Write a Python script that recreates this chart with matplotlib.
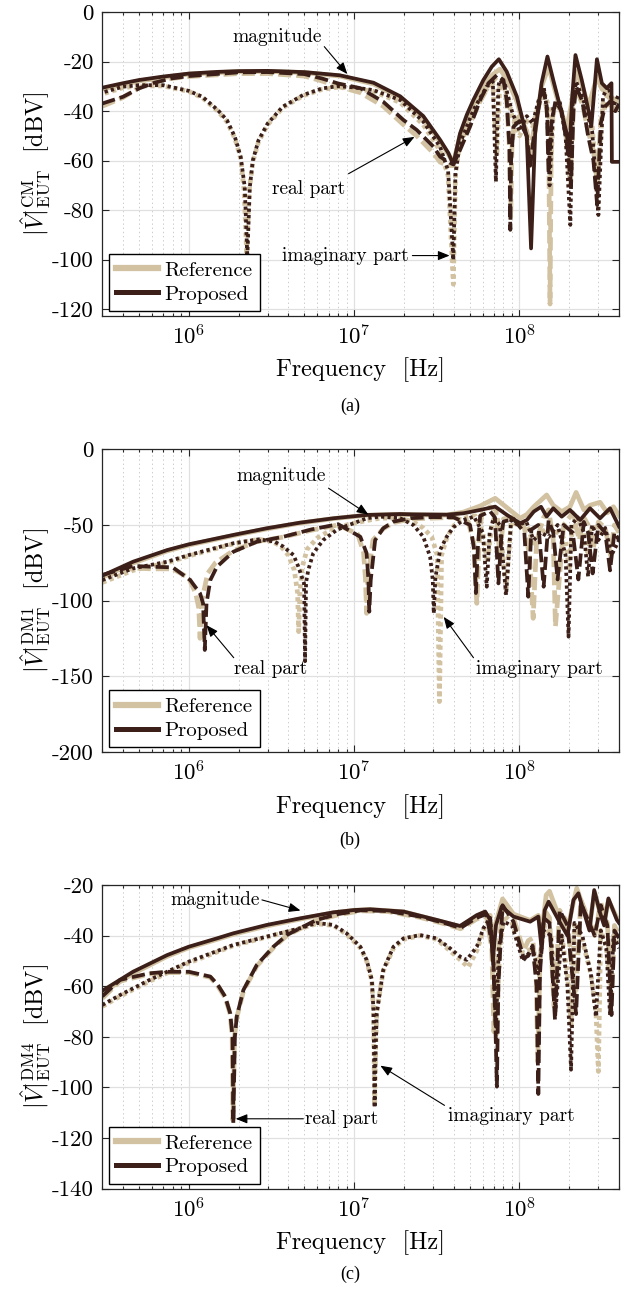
import matplotlib.pyplot as plt
from matplotlib.lines import Line2D

# ---- panel (a): CM voltage, (frequency [Hz], level [dBV]) pairs ----
a_mag_ref = [(3e5, -31.0), (5e5, -27.8), (1e6, -25.0), (2e6, -24.0), (3e6, -23.9), (5e6, -24.4), (8.2e6, -25.8),
             (1.31e7, -29.0), (1.9e7, -34.6), (2.62e7, -42.8), (3.31e7, -52.3), (3.72e7, -57.5), (3.98e7, -61.0),
             (4.37e7, -50.0), (4.8e7, -43.0), (5.26e7, -37.5), (6.05e7, -30.0), (6.8e7, -25.5), (7.6e7, -23.0),
             (8.4e7, -27.0), (9.64e7, -36.0), (1.107e8, -50.0), (1.16e8, -62.0), (1.244e8, -48.0), (1.36e8, -30.0),
             (1.5e8, -22.0), (1.6e8, -29.0), (1.76e8, -39.0), (1.93e8, -47.0), (2.05e8, -38.0), (2.2e8, -24.0),
             (2.38e8, -29.0), (2.61e8, -38.0), (2.75e8, -33.0), (2.95e8, -26.0), (3.15e8, -31.0), (3.4e8, -33.0),
             (3.7e8, -35.0), (4e8, -36.0)]
a_mag_pro = [(3e5, -30.5), (4e5, -28.7), (5e5, -27.4), (7e5, -26.0), (1e6, -24.8), (1.5e6, -24.1), (2e6, -23.8),
             (3e6, -23.7), (5e6, -24.2), (8.2e6, -25.5), (1.31e7, -28.5), (1.9e7, -34.0), (2.62e7, -42.0),
             (3.31e7, -51.6), (3.72e7, -57.0), (3.98e7, -61.5), (4.37e7, -49.0), (4.8e7, -41.5), (5.26e7, -35.5),
             (6.05e7, -27.4), (6.8e7, -22.0), (7.5e7, -19.0), (8.37e7, -24.0), (9.64e7, -34.1), (1.107e8, -50.3),
             (1.175e8, -95.5), (1.244e8, -48.9), (1.36e8, -28.7), (1.476e8, -17.9), (1.6e8, -27.4), (1.76e8, -38.2),
             (1.93e8, -49.0), (2.0e8, -58.0), (2.08e8, -35.0), (2.18e8, -17.3), (2.38e8, -27.4), (2.61e8, -39.6),
             (2.72e8, -46.0), (2.94e8, -19.0), (3.15e8, -28.7), (3.37e8, -30.7), (3.6e8, -28.7), (3.62e8, -60.5),
             (4e8, -60.5)]
a_re_ref = [(3e5, -38.0), (4e5, -34.5), (5e5, -30.5), (6.2e5, -28.0), (7.8e5, -26.8), (1e6, -26.0), (2e6, -24.8),
            (3e6, -24.8), (5e6, -25.8), (6.4e6, -27.8), (8e6, -30.0), (1.09e7, -32.5), (1.5e7, -38.0), (1.99e7, -45.5),
            (2.39e7, -50.0), (3.02e7, -57.0), (3.31e7, -60.6), (3.7e7, -62.0), (3.98e7, -62.0), (4.37e7, -53.0),
            (5.02e7, -45.0), (5.78e7, -36.0), (6.49e7, -30.0), (7.3e7, -26.0), (8.0e7, -28.0), (8.37e7, -36.0),
            (8.7e7, -55.0), (8.85e7, -83.0), (9.0e7, -55.0), (9.3e7, -44.0), (1.0e8, -42.0), (1.107e8, -48.0),
            (1.16e8, -56.0), (1.25e8, -44.0), (1.33e8, -35.0), (1.42e8, -34.0), (1.5e8, -45.0), (1.53e8, -118.0),
            (1.56e8, -45.0), (1.65e8, -37.0), (1.8e8, -40.0), (1.95e8, -52.0), (2.05e8, -62.0), (2.12e8, -38.0),
            (2.2e8, -31.0), (2.4e8, -37.0), (2.6e8, -48.0), (2.8e8, -56.0), (2.95e8, -68.0), (3.1e8, -44.0),
            (3.3e8, -38.0), (3.55e8, -37.0), (3.8e8, -40.0), (4e8, -38.0)]
a_re_pro = [(3e5, -36.9), (4e5, -34.2), (5e5, -30.8), (6.2e5, -28.5), (7.8e5, -26.8), (1e6, -25.8), (2e6, -24.3),
            (3e6, -24.2), (5e6, -25.0), (6.4e6, -26.8), (8e6, -28.8), (1.09e7, -30.7), (1.5e7, -36.2), (1.99e7, -43.6),
            (2.39e7, -47.6), (3.02e7, -54.4), (3.31e7, -58.4), (3.7e7, -60.5), (3.98e7, -61.5), (4.37e7, -55.7),
            (5.02e7, -46.3), (5.78e7, -35.5), (6.49e7, -28.7), (7.3e7, -25.4), (8.0e7, -27.4), (8.37e7, -35.5),
            (8.7e7, -55.0), (8.8e7, -88.0), (8.9e7, -60.0), (9.2e7, -46.3), (1.0e8, -44.0), (1.107e8, -50.0),
            (1.16e8, -62.0), (1.25e8, -45.0), (1.33e8, -36.0), (1.4e8, -32.0), (1.46e8, -38.0), (1.5e8, -65.0),
            (1.56e8, -45.0), (1.65e8, -36.0), (1.8e8, -40.0), (1.95e8, -55.0), (2.05e8, -70.0), (2.12e8, -40.0),
            (2.2e8, -30.0), (2.4e8, -36.0), (2.6e8, -50.0), (2.8e8, -60.0), (2.95e8, -78.0), (3.1e8, -45.0),
            (3.3e8, -38.0), (3.55e8, -36.0), (3.8e8, -40.0), (4e8, -37.0)]
a_im_ref = [(3.1e5, -32.8), (4e5, -30.5), (5e5, -29.8), (7e5, -29.8), (1e6, -32.0), (1.21e6, -34.6), (1.5e6, -40.0),
            (1.7e6, -44.2), (1.9e6, -51.0), (2.06e6, -59.0), (2.16e6, -72.0), (2.24e6, -98.0), (2.32e6, -72.0),
            (2.44e6, -60.5), (2.64e6, -52.4), (3.0e6, -45.5), (3.7e6, -38.6), (4.9e6, -33.8), (6.4e6, -31.2),
            (8e6, -30.3), (1e7, -30.8), (1.31e7, -32.0), (1.9e7, -36.5), (2.62e7, -45.5), (3.31e7, -56.0),
            (3.7e7, -66.0), (3.98e7, -110.0), (4.1e7, -66.0), (4.37e7, -52.0), (5.26e7, -39.0), (6.34e7, -31.0),
            (6.9e7, -29.0), (7.3e7, -58.0), (7.6e7, -29.0), (8.2e7, -31.0), (9.0e7, -42.0), (1.0e8, -50.0),
            (1.107e8, -44.0), (1.2e8, -46.0), (1.3e8, -38.0), (1.4e8, -32.0), (1.5e8, -38.0), (1.55e8, -62.0),
            (1.6e8, -40.0), (1.75e8, -37.0), (1.9e8, -48.0), (2.03e8, -70.0), (2.1e8, -38.0), (2.2e8, -31.0),
            (2.45e8, -38.0), (2.75e8, -46.0), (2.95e8, -70.0), (3.2e8, -37.0), (3.45e8, -33.0), (3.7e8, -40.0),
            (4e8, -36.0)]
a_im_pro = [(3.1e5, -32.2), (4e5, -30.1), (5e5, -29.5), (7e5, -29.5), (1e6, -31.8), (1.21e6, -34.2), (1.5e6, -39.6),
            (1.7e6, -43.6), (1.9e6, -50.4), (2.06e6, -58.5), (2.18e6, -70.7), (2.26e6, -99.0), (2.34e6, -70.7),
            (2.44e6, -59.9), (2.64e6, -51.8), (3.0e6, -45.0), (3.7e6, -38.2), (4.9e6, -33.5), (6.4e6, -30.8),
            (8e6, -29.9), (1e7, -30.4), (1.31e7, -31.5), (1.9e7, -35.5), (2.62e7, -44.2), (3.31e7, -54.4),
            (3.7e7, -64.0), (3.98e7, -100.2), (4.1e7, -65.0), (4.37e7, -53.0), (5.26e7, -39.6), (6.34e7, -30.0),
            (6.9e7, -28.0), (7.2e7, -68.5), (7.45e7, -30.0), (7.6e7, -27.4), (8.2e7, -29.5), (9.0e7, -40.0),
            (1.0e8, -48.0), (1.107e8, -42.0), (1.2e8, -45.0), (1.3e8, -36.0), (1.4e8, -30.0), (1.47e8, -40.0),
            (1.52e8, -70.0), (1.6e8, -38.0), (1.75e8, -36.0), (1.9e8, -50.0), (2.03e8, -86.0), (2.1e8, -36.0),
            (2.2e8, -28.0), (2.45e8, -36.0), (2.75e8, -48.0), (3.0e8, -82.0), (3.2e8, -34.0), (3.45e8, -30.0),
            (3.7e8, -38.0), (4e8, -33.0)]

# ---- panel (b): DM1 voltage ----
b_mag_ref = [(3e5, -84.5), (4.6e5, -75.2), (7.4e5, -67.2), (1e6, -63.3), (1.86e6, -57.0), (2.96e6, -52.6),
             (4.7e6, -48.8), (7.5e6, -45.8), (1.19e7, -43.6), (1.9e7, -43.0), (2.28e7, -43.3), (3.63e7, -43.5),
             (4.58e7, -41.5), (5.78e7, -37.5), (7.13e7, -32.4), (8.4e7, -38.6), (1.01e8, -45.6), (1.11e8, -43.0),
             (1.22e8, -38.0), (1.46e8, -30.2), (1.6e8, -37.0), (1.8e8, -41.2), (2.02e8, -38.0), (2.2e8, -28.5),
             (2.45e8, -40.0), (2.67e8, -37.0), (3.07e8, -35.0), (3.4e8, -42.0), (3.7e8, -38.0), (4e8, -44.0)]
b_mag_pro = [(3e5, -83.5), (4.6e5, -74.3), (7.4e5, -66.6), (1e6, -62.8), (1.86e6, -56.6), (2.96e6, -52.2),
             (4.7e6, -48.5), (7.5e6, -45.6), (1.19e7, -43.4), (1.9e7, -42.8), (2.28e7, -43.0), (3.63e7, -43.2),
             (4.58e7, -42.3), (5.78e7, -40.1), (7.13e7, -37.9), (8.4e7, -43.4), (1.01e8, -48.9), (1.11e8, -46.7),
             (1.22e8, -41.2), (1.35e8, -38.0), (1.46e8, -44.5), (1.6e8, -39.0), (1.8e8, -44.5), (2.02e8, -40.1),
             (2.33e8, -46.7), (2.67e8, -39.0), (3.07e8, -45.6), (3.53e8, -39.0), (4e8, -51.0)]
b_re_ref = [(3e5, -84.0), (4.6e5, -78.5), (6e5, -79.0), (8e5, -79.0), (1.0e6, -85.0), (1.1e6, -95.0), (1.15e6, -105.0),
            (1.17e6, -124.9), (1.2e6, -100.0), (1.3e6, -82.0), (1.45e6, -75.0), (1.86e6, -67.0), (2.58e6, -61.0),
            (3.73e6, -58.0), (5.5e6, -53.5), (8e6, -50.0), (1.05e7, -56.0), (1.14e7, -68.0), (1.17e7, -85.0),
            (1.19e7, -108.4), (1.21e7, -85.0), (1.3e7, -60.0), (1.5e7, -52.5), (1.73e7, -48.5), (2.2e7, -46.0),
            (3.0e7, -45.5), (4.0e7, -45.0), (4.9e7, -48.0), (5.3e7, -62.0), (5.52e7, -101.8), (5.7e7, -62.0),
            (5.9e7, -43.0), (6.64e7, -38.0), (7.2e7, -40.0), (7.6e7, -70.0), (8.0e7, -46.0), (9.2e7, -45.0),
            (1.07e8, -52.0), (1.15e8, -70.0), (1.21e8, -111.7), (1.27e8, -60.0), (1.4e8, -45.0), (1.5e8, -40.0),
            (1.6e8, -60.0), (1.65e8, -117.0), (1.85e8, -50.0), (2.1e8, -42.0), (2.3e8, -60.0), (2.45e8, -45.0),
            (2.6e8, -50.0), (2.8e8, -65.0), (3.0e8, -48.0), (3.3e8, -52.0), (3.55e8, -70.0), (3.75e8, -50.0),
            (4e8, -55.0)]
b_re_pro = [(3e5, -83.0), (4.6e5, -77.1), (6e5, -77.6), (8e5, -78.0), (1.02e6, -86.4), (1.17e6, -95.2),
            (1.22e6, -101.8), (1.25e6, -132.6), (1.28e6, -101.8), (1.35e6, -86.4), (1.48e6, -77.6), (1.86e6, -67.7),
            (2.58e6, -61.1), (3.73e6, -57.8), (5.5e6, -53.0), (8e6, -49.5), (1.09e7, -57.8), (1.19e7, -68.7),
            (1.22e7, -86.4), (1.235e7, -107.3), (1.26e7, -86.4), (1.34e7, -60.0), (1.5e7, -52.2), (1.73e7, -47.8),
            (2.2e7, -45.5), (3.0e7, -44.8), (4.0e7, -45.0), (5.02e7, -50.0), (5.3e7, -65.0), (5.45e7, -95.0),
            (5.6e7, -65.0), (5.78e7, -44.0), (6.64e7, -41.0), (7.1e7, -45.0), (7.46e7, -88.6), (7.8e7, -55.0),
            (8.0e7, -47.8), (9.2e7, -46.0), (1.07e8, -55.0), (1.13e8, -97.4), (1.18e8, -53.0), (1.3e8, -50.0),
            (1.4e8, -90.8), (1.5e8, -47.0), (1.6e8, -55.0), (1.7e8, -86.0), (1.85e8, -50.0), (2.1e8, -55.0),
            (2.27e8, -86.0), (2.45e8, -48.0), (2.6e8, -55.0), (2.77e8, -82.0), (3.0e8, -50.0), (3.3e8, -55.0),
            (3.53e8, -80.0), (3.75e8, -55.0), (4e8, -60.0)]
b_im_ref = [(3e5, -88.0), (4.6e5, -80.0), (7.4e5, -75.0), (1e6, -70.5), (1.86e6, -62.5), (2.65e6, -59.5),
            (3.2e6, -61.0), (3.6e6, -64.0), (4.0e6, -70.0), (4.35e6, -80.0), (4.55e6, -95.0), (4.62e6, -120.5),
            (4.7e6, -95.0), (4.85e6, -78.0), (5.2e6, -66.0), (6.0e6, -58.5), (7.5e6, -52.5), (9.0e6, -50.0),
            (1.2e7, -47.0), (1.44e7, -45.5), (1.9e7, -45.5), (2.28e7, -48.0), (2.62e7, -52.0), (2.95e7, -58.0),
            (3.18e7, -70.0), (3.28e7, -166.7), (3.38e7, -70.0), (3.6e7, -60.0), (3.9e7, -52.0), (4.3e7, -47.0),
            (4.8e7, -45.0), (5.4e7, -44.0), (6.0e7, -55.0), (6.4e7, -75.0), (6.8e7, -50.0), (7.2e7, -42.0),
            (7.7e7, -55.0), (8.3e7, -92.0), (8.9e7, -48.0), (9.8e7, -50.0), (1.1e8, -50.0), (1.22e8, -62.0),
            (1.35e8, -55.0), (1.5e8, -52.0), (1.7e8, -55.0), (1.9e8, -60.0), (2.0e8, -80.0), (2.1e8, -48.0),
            (2.25e8, -45.0), (2.45e8, -55.0), (2.6e8, -70.0), (2.75e8, -50.0), (3.0e8, -55.0), (3.3e8, -55.0),
            (3.6e8, -60.0), (4e8, -58.0)]
b_im_pro = [(3e5, -86.4), (4.6e5, -78.7), (7.4e5, -74.3), (1e6, -69.9), (1.86e6, -62.1), (2.65e6, -59.5),
            (3.3e6, -61.0), (3.73e6, -64.3), (4.3e6, -69.9), (4.6e6, -77.6), (4.98e6, -88.6), (5.05e6, -140.0),
            (5.12e6, -88.0), (5.28e6, -79.8), (5.66e6, -68.7), (6.5e6, -60.0), (7.85e6, -53.3), (9.0e6, -50.6),
            (1.2e7, -45.5), (1.44e7, -44.5), (1.9e7, -45.6), (2.28e7, -50.0), (2.62e7, -57.8), (2.88e7, -71.0),
            (2.99e7, -86.4), (3.03e7, -108.4), (3.1e7, -85.0), (3.31e7, -66.6), (3.63e7, -57.8), (3.98e7, -51.6),
            (4.58e7, -46.7), (5.3e7, -44.5), (6.0e7, -55.0), (6.34e7, -90.8), (6.6e7, -55.0), (7.0e7, -45.0),
            (7.6e7, -50.0), (8.3e7, -96.3), (8.9e7, -47.0), (9.8e7, -50.0), (1.1e8, -48.0), (1.22e8, -60.0),
            (1.35e8, -55.0), (1.5e8, -58.0), (1.7e8, -50.0), (1.9e8, -70.0), (1.98e8, -123.8), (2.06e8, -50.0),
            (2.25e8, -45.0), (2.45e8, -55.0), (2.6e8, -84.0), (2.75e8, -50.0), (3.0e8, -60.0), (3.3e8, -52.0),
            (3.6e8, -70.0), (4e8, -60.0)]

# ---- panel (c): DM4 voltage ----
c_mag_ref = [(3e5, -62.5), (4.6e5, -55.0), (7.4e5, -48.2), (1e6, -44.8), (1.48e6, -41.5), (1.86e6, -39.5),
             (2.96e6, -36.2), (4.7e6, -33.5), (7.5e6, -31.0), (1e7, -30.0), (1.25e7, -29.7), (1.99e7, -30.6),
             (3.16e7, -34.0), (4.37e7, -36.5), (5.52e7, -32.5), (6.2e7, -31.0), (6.65e7, -34.0), (6.9e7, -45.0),
             (7.2e7, -35.0), (7.9e7, -25.5), (9.2e7, -31.5), (1.16e8, -34.0), (1.3e8, -32.0), (1.36e8, -40.0),
             (1.45e8, -24.0), (1.52e8, -22.5), (1.72e8, -32.0), (1.95e8, -38.0), (2.1e8, -28.0), (2.22e8, -21.3),
             (2.5e8, -31.0), (2.65e8, -36.0), (2.85e8, -23.0), (3.07e8, -31.0), (3.25e8, -35.0), (3.45e8, -26.0),
             (3.88e8, -33.0), (4e8, -34.0)]
c_mag_pro = [(3e5, -61.8), (4.6e5, -54.3), (7.4e5, -47.7), (1e6, -44.4), (1.48e6, -41.1), (1.86e6, -39.1),
             (2.96e6, -35.8), (4.7e6, -33.2), (7.5e6, -30.8), (1e7, -29.9), (1.25e7, -29.6), (1.99e7, -30.5),
             (3.16e7, -33.8), (4.37e7, -36.2), (5.52e7, -31.9), (6.2e7, -30.5), (6.65e7, -33.8), (6.9e7, -50.0),
             (7.2e7, -36.0), (7.8e7, -28.6), (9.2e7, -32.5), (1.16e8, -34.5), (1.3e8, -32.5), (1.36e8, -45.0),
             (1.42e8, -30.0), (1.5e8, -26.6), (1.72e8, -33.8), (1.95e8, -40.0), (2.12e8, -25.9), (2.27e8, -23.3),
             (2.5e8, -32.5), (2.65e8, -38.0), (2.83e8, -22.0), (3.07e8, -31.0), (3.25e8, -36.0), (3.45e8, -25.3),
             (3.88e8, -33.8), (4e8, -35.0)]
c_re_ref = [(3e5, -64.8), (3.84e5, -58.0), (5.8e5, -55.2), (7.4e5, -54.6), (1e6, -54.6), (1.35e6, -56.5),
            (1.5e6, -60.0), (1.66e6, -64.5), (1.78e6, -71.0), (1.83e6, -80.0), (1.85e6, -113.0), (1.89e6, -80.0),
            (1.95e6, -72.5), (2.14e6, -62.0), (2.58e6, -52.0), (3.25e6, -44.8), (3.92e6, -40.0), (4.7e6, -37.3),
            (5.94e6, -34.0), (8e6, -31.8), (1.1e7, -30.2), (1.6e7, -30.5), (2.5e7, -32.8), (3.5e7, -35.3),
            (4.4e7, -37.3), (5.5e7, -33.5), (6.3e7, -32.0), (6.8e7, -45.0), (7.0e7, -78.0), (7.15e7, -70.0),
            (7.35e7, -50.0), (8.0e7, -26.0), (9.2e7, -33.0), (1.06e8, -46.0), (1.13e8, -42.0), (1.2e8, -41.0),
            (1.26e8, -55.0), (1.29e8, -90.0), (1.33e8, -50.0), (1.42e8, -30.0), (1.52e8, -33.0), (1.62e8, -68.0),
            (1.75e8, -30.0), (1.95e8, -35.0), (2.18e8, -65.0), (2.35e8, -26.0), (2.6e8, -33.0), (2.85e8, -40.0),
            (3.1e8, -27.0), (3.4e8, -35.0), (3.6e8, -65.0), (3.75e8, -36.0), (4e8, -40.0)]
c_re_pro = [(3e5, -64.0), (3.84e5, -57.5), (5.8e5, -54.9), (7.4e5, -54.3), (1e6, -54.3), (1.35e6, -56.2),
            (1.5e6, -59.5), (1.66e6, -64.1), (1.78e6, -70.7), (1.84e6, -80.0), (1.86e6, -114.2), (1.9e6, -80.0),
            (1.95e6, -72.0), (2.14e6, -61.5), (2.58e6, -51.6), (3.25e6, -44.4), (3.92e6, -39.8), (4.7e6, -37.1),
            (5.94e6, -33.8), (8e6, -31.5), (1.1e7, -30.0), (1.6e7, -30.3), (2.5e7, -32.5), (3.5e7, -35.0),
            (4.4e7, -37.0), (5.5e7, -33.0), (6.3e7, -31.5), (6.9e7, -45.0), (7.15e7, -75.0), (7.3e7, -99.7),
            (7.45e7, -60.0), (7.9e7, -28.0), (9.2e7, -34.5), (1.06e8, -49.0), (1.13e8, -48.0), (1.2e8, -44.0),
            (1.27e8, -60.0), (1.3e8, -102.6), (1.33e8, -55.0), (1.4e8, -33.0), (1.52e8, -35.0), (1.64e8, -73.4),
            (1.75e8, -30.0), (1.95e8, -36.0), (2.2e8, -71.0), (2.35e8, -27.0), (2.6e8, -34.0), (2.85e8, -40.0),
            (3.1e8, -28.0), (3.4e8, -36.0), (3.6e8, -71.4), (3.75e8, -38.0), (4e8, -41.0)]
c_im_ref = [(3e5, -68.0), (3.84e5, -64.0), (5.8e5, -58.0), (1e6, -50.8), (1.86e6, -44.0), (2.96e6, -40.6),
            (4.7e6, -37.3), (5.94e6, -35.3), (7.5e6, -36.0), (9e6, -39.5), (1.09e7, -44.8), (1.19e7, -50.0),
            (1.28e7, -58.0), (1.31e7, -70.0), (1.33e7, -107.0), (1.35e7, -84.0), (1.37e7, -70.0), (1.5e7, -54.0),
            (1.73e7, -45.0), (1.99e7, -41.5), (2.5e7, -40.0), (3.16e7, -41.5), (3.8e7, -46.0), (4.37e7, -49.5),
            (4.9e7, -52.5), (5.52e7, -46.0), (6.05e7, -38.0), (6.65e7, -32.0), (6.95e7, -45.0), (7.25e7, -79.0),
            (7.6e7, -45.0), (8.1e7, -32.0), (9e7, -35.0), (1.05e8, -47.0), (1.2e8, -45.0), (1.3e8, -52.0),
            (1.42e8, -36.0), (1.55e8, -40.0), (1.65e8, -60.0), (1.8e8, -40.0), (1.95e8, -55.0), (2.05e8, -75.0),
            (2.15e8, -36.0), (2.4e8, -42.0), (2.7e8, -55.0), (2.9e8, -70.0), (3.0e8, -93.7), (3.1e8, -38.0),
            (3.35e8, -44.0), (3.53e8, -60.0), (3.7e8, -40.0), (4e8, -44.0)]
c_im_pro = [(3e5, -67.4), (3.84e5, -63.5), (5.8e5, -57.5), (1e6, -50.3), (1.86e6, -43.7), (2.96e6, -40.4),
            (4.7e6, -37.1), (5.94e6, -35.0), (7.5e6, -35.8), (9e6, -39.1), (1.09e7, -44.4), (1.19e7, -49.6),
            (1.28e7, -57.5), (1.31e7, -70.0), (1.33e7, -108.0), (1.35e7, -85.0), (1.37e7, -70.7), (1.5e7, -53.6),
            (1.73e7, -44.4), (1.99e7, -41.1), (2.5e7, -39.8), (3.16e7, -41.1), (3.8e7, -45.0), (4.37e7, -48.3),
            (4.8e7, -49.6), (5.52e7, -44.4), (6.05e7, -37.1), (6.65e7, -33.0), (6.95e7, -50.0), (7.2e7, -76.0),
            (7.5e7, -45.0), (8e7, -34.5), (9e7, -36.0), (1.05e8, -50.0), (1.2e8, -45.0), (1.3e8, -55.0),
            (1.4e8, -38.0), (1.55e8, -40.0), (1.65e8, -70.0), (1.8e8, -40.0), (1.95e8, -60.0), (2.05e8, -93.0),
            (2.15e8, -35.0), (2.4e8, -40.0), (2.7e8, -55.0), (2.9e8, -72.0), (3.1e8, -38.0), (3.35e8, -45.0),
            (3.53e8, -71.4), (3.7e8, -40.0), (4e8, -45.0)]

# axis limits / ticks per panel
a_yticks = [0, -20, -40, -60, -80, -100, -120]
b_yticks = [0, -50, -100, -150, -200]
c_yticks = [-20, -40, -60, -80, -100, -120, -140]
x_ticks = [1e6, 1e7, 1e8]
x_ticklabels = ['$10^{6}$', '$10^{7}$', '$10^{8}$']

plt.rcParams['font.family'] = 'serif'
plt.rcParams['font.serif'] = ['cmr10']
plt.rcParams['mathtext.fontset'] = 'cm'
plt.rcParams['axes.unicode_minus'] = False
plt.rcParams['lines.scale_dashes'] = False

TAN = '#D2C2A1'
BROWN = '#3B1F18'
REF_LW = 3.4
PRO_LW = 2.7


def draw_panel(ax, ref, pro, ylim, yticks, sup, notes):
    styles = [('-', '-'), ((0, (9.5, 3.6)), (0, (9.5, 3.6))), ((0, (3.0, 2.6)), (0, (2.3, 2.3)))]
    for curve, (ls, _) in zip(ref, styles):
        f, v = zip(*curve)
        ax.plot(f, v, color=TAN, lw=REF_LW, ls=ls)
    for curve, (_, ls) in zip(pro, styles):
        f, v = zip(*curve)
        ax.plot(f, v, color=BROWN, lw=PRO_LW, ls=ls)

    ax.set_xscale('log')
    ax.set_xlim(3e5, 4e8)
    ax.set_ylim(*ylim)
    ax.set_xticks(x_ticks)
    ax.set_xticklabels(x_ticklabels, fontsize=16.5)
    ax.set_yticks(yticks)
    ax.set_yticklabels([str(t) for t in yticks], fontsize=16.5)
    ax.tick_params(which='both', direction='in', top=True, right=True, color='#262626', width=0.8)
    ax.tick_params(which='major', length=5, pad=6)
    ax.tick_params(which='minor', length=2.5)
    ax.tick_params(axis='y', which='minor', left=False, right=False)
    for s in ax.spines.values():
        s.set_color('#262626')
        s.set_linewidth(0.9)

    ax.set_axisbelow(True)
    ax.grid(True, which='major', color='#e0e0e0', lw=0.9, ls='-')
    ax.grid(True, which='minor', axis='x', color='#c4c4c4', lw=0.6, ls=(0, (1, 2)))

    ax.text(0.5, -0.179, 'Frequency  [Hz]', transform=ax.transAxes, ha='center', va='center', fontsize=17.5)
    ax.text(-0.13, 0.5, r'$|\hat{V}|_{\mathrm{EUT}}^{\mathrm{%s}}$  [dBV]' % sup, transform=ax.transAxes,
            rotation=90, ha='center', va='center', fontsize=17.5)

    for label, pos, tail, head in notes:
        ax.text(pos[0], pos[1], label, ha='center', va='center', fontsize=14)
        ax.annotate('', xy=head, xytext=tail,
                    arrowprops=dict(arrowstyle='-|>,head_length=0.7,head_width=0.28', color='k', lw=0.8,
                                    shrinkA=0, shrinkB=0))

    handles = [Line2D([], [], color=TAN, lw=4.5), Line2D([], [], color=BROWN, lw=3.6)]
    leg = ax.legend(handles, ['Reference', 'Proposed'], loc='lower left', bbox_to_anchor=(0.013, 0.016),
                    borderaxespad=0, fontsize=15, fancybox=False, edgecolor='k', framealpha=1,
                    handlelength=2.0, handletextpad=0.3, borderpad=0.35, labelspacing=0.25)
    leg.get_frame().set_linewidth(1.0)


fig = plt.figure(figsize=(6.3, 12.91), dpi=100)
left, width = 0.1624, 0.8202

ax_a = fig.add_axes([left, 0.7555, width, 0.2350])
draw_panel(ax_a, [a_mag_ref, a_re_ref, a_im_ref], [a_mag_pro, a_re_pro, a_im_pro], (-122.7, 0), a_yticks, 'CM',
           [('magnitude', (3.4e6, -9.9), (6.6e6, -13.9), (9.1e6, -25.0)),
            ('real part', (5.3e6, -71.4), (9.25e6, -65.3), (2.32e7, -50.4)),
            ('imaginary part', (8.86e6, -98.4), (2.25e7, -98.4), (3.78e7, -98.4))])

ax_b = fig.add_axes([left, 0.4175, width, 0.2345])
draw_panel(ax_b, [b_mag_ref, b_re_ref, b_im_ref], [b_mag_pro, b_re_pro, b_im_pro], (-200, 0), b_yticks, 'DM1',
           [('magnitude', (3.63e6, -17.5), (7.0e6, -25.7), (1.22e7, -43.2)),
            ('real part', (3.13e6, -145.4), (1.87e6, -137.7), (1.28e6, -116.2)),
            ('imaginary part', (1.31e8, -145.4), (5.27e7, -137.7), (3.48e7, -110.7))])

ax_c = fig.add_axes([left, 0.0793, width, 0.2352])
draw_panel(ax_c, [c_mag_ref, c_re_ref, c_im_ref], [c_mag_pro, c_re_pro, c_im_pro], (-140, -20), c_yticks, 'DM4',
           [('magnitude', (1.44e6, -25.9), (2.77e6, -25.9), (4.74e6, -30.1)),
            ('real part', (8.37e6, -112.4), (4.93e6, -112.4), (1.92e6, -112.4)),
            ('imaginary part', (8.95e7, -111.3), (3.52e7, -107.1), (1.44e7, -91.4))])

for y, cap in [(0.685, '(a)'), (0.349, '(b)'), (0.0132, '(c)')]:
    fig.text(0.5556, y, cap, family='Liberation Serif', fontsize=13, ha='center', va='center')

fig.savefig('out.png', dpi=100)
